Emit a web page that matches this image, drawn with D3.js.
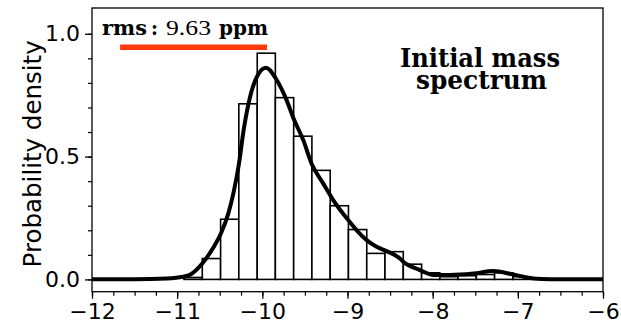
<!DOCTYPE html>
<html>
<head>
<meta charset="utf-8">
<script src="https://cdn.jsdelivr.net/npm/d3@7"></script>
<style>
  html, body { margin: 0; padding: 0; background: #fff; }
  #vis-main { width: 621px; height: 325px; }
</style>
</head>
<body>
<div id="vis-main"></div>
<script>

/* Data */
/* ---- */

// histogram bin edges (log10 relative mass error) and densities
var binEdges = [-10.92, -10.705, -10.49, -10.276, -10.06, -9.847, -9.632, -9.418, -9.203, -8.989,
                -8.774, -8.56, -8.345, -8.13, -7.916, -7.702, -7.487, -7.273, -7.058, -6.844];
var binDensity = [0.008, 0.085, 0.245, 0.715, 0.921, 0.74, 0.583, 0.444, 0.30, 0.203,
                  0.106, 0.113, 0.062, 0.027, 0.011, 0.015, 0.02, 0.027, 0.011];

// smoothed density curve
var kdeX = [-12, -11.5, -11.12, -10.93, -10.85, -10.705, -10.575, -10.485, -10.40, -10.34,
            -10.275, -10.22, -10.145, -10.066, -9.957, -9.84, -9.714, -9.632, -9.518, -9.42,
            -9.284, -9.166, -8.99, -8.873, -8.775, -8.658, -8.54, -8.384, -8.345, -8.149,
            -7.99, -7.797, -7.52, -7.288, -7.053, -6.82, -6.62, -6];
var kdeY = [0.001, 0.001, 0.004, 0.011, 0.019, 0.065, 0.13, 0.188, 0.268, 0.35,
            0.47, 0.607, 0.742, 0.824, 0.862, 0.817, 0.729, 0.654, 0.566, 0.47,
            0.39, 0.322, 0.241, 0.193, 0.16, 0.133, 0.115, 0.085, 0.072, 0.038,
            0.018, 0.018, 0.024, 0.034, 0.02, 0.004, 0.001, 0.001];

// rms bar (data coords)
var rmsSpan = [-11.67, -9.945];
var rmsLevel = 0.945;
var rmsValue = '9.63';

var xTicks = [-12, -11, -10, -9, -8, -7, -6];
var yTicks = [0, 0.5, 1.0];
var xMinor = d3.range(-12, -5.99, 0.25);
var yMinor = d3.range(0, 1.05, 0.1);

var xDomain = [-12, -6];
var yDomain = [-0.05, 1.105];


/* Globals */
/* ------- */

var vis = {};
vis.dims = { width: 621, height: 325 };
vis.margin = { top: 8, right: 18, bottom: 33.3, left: 92 };
vis.scale = {};


function setupVisual() {

  var svg = d3.select('#vis-main')
    .append('svg')
      .attr('width', vis.dims.width)
      .attr('height', vis.dims.height);

  vis.scale.x = d3.scaleLinear().domain(xDomain)
      .range([vis.margin.left, vis.dims.width - vis.margin.right]);
  vis.scale.y = d3.scaleLinear().domain(yDomain)
      .range([vis.dims.height - vis.margin.bottom, vis.margin.top]);

  vis.svg = svg;

} // setupVisual()

function drawBars() {

  var x = vis.scale.x, y = vis.scale.y;
  var bins = binDensity.map(function(d, i) { return { x0: binEdges[i], x1: binEdges[i + 1], v: d }; });

  vis.svg.append('g').attr('id', 'bars-g')
    .selectAll('rect')
    .data(bins)
    .enter().append('rect')
      .attr('x', function(d) { return x(d.x0); })
      .attr('width', function(d) { return x(d.x1) - x(d.x0); })
      .attr('y', function(d) { return y(d.v); })
      .attr('height', function(d) { return y(0) - y(d.v); })
      .attr('fill', '#fff')
      .attr('stroke', '#000')
      .attr('stroke-width', 1.6);

} // drawBars()

function drawCurve() {

  var x = vis.scale.x, y = vis.scale.y;
  var pts = kdeX.map(function(d, i) { return [d, kdeY[i]]; });

  var line = d3.line()
      .x(function(d) { return x(d[0]); })
      .y(function(d) { return y(d[1]); })
      .curve(d3.curveMonotoneX);

  vis.svg.append('path')
    .datum(pts)
    .attr('d', line)
    .attr('fill', 'none')
    .attr('stroke', '#000')
    .attr('stroke-width', 4)
    .attr('stroke-linejoin', 'round');

} // drawCurve()

function drawAxes() {

  var x = vis.scale.x, y = vis.scale.y;
  var bottom = vis.dims.height - vis.margin.bottom;

  // minor ticks
  vis.svg.append('g')
      .attr('transform', 'translate(0,' + bottom + ')')
      .call(d3.axisBottom(x).tickValues(xMinor).tickSize(4).tickFormat(''))
      .call(function(g) { g.select('.domain').remove(); g.selectAll('line').attr('stroke-width', 1.2); });

  vis.svg.append('g')
      .attr('transform', 'translate(' + vis.margin.left + ',0)')
      .call(d3.axisLeft(y).tickValues(yMinor).tickSize(4).tickFormat(''))
      .call(function(g) { g.select('.domain').remove(); g.selectAll('line').attr('stroke-width', 1.2); });

  // major ticks
  vis.svg.append('g')
      .attr('transform', 'translate(0,' + bottom + ')')
      .call(d3.axisBottom(x).tickValues(xTicks).tickSize(7).tickPadding(5).tickFormat(d3.format('d')))
      .call(function(g) {
        g.select('.domain').remove();
        g.selectAll('line').attr('stroke-width', 1.3);
        g.selectAll('text').attr('font-family', 'DejaVu Sans').attr('font-size', 22).attr('fill', '#000');
      });

  vis.svg.append('g')
      .attr('transform', 'translate(' + vis.margin.left + ',0)')
      .call(d3.axisLeft(y).tickValues(yTicks).tickSize(7).tickPadding(5).tickFormat(d3.format('.1f')))
      .call(function(g) {
        g.select('.domain').remove();
        g.selectAll('line').attr('stroke-width', 1.3);
        g.selectAll('text').attr('font-family', 'DejaVu Sans').attr('font-size', 22).attr('fill', '#000');
      });

  // frame
  vis.svg.append('rect')
      .attr('x', x(xDomain[0]))
      .attr('y', y(yDomain[1]))
      .attr('width', x(xDomain[1]) - x(xDomain[0]))
      .attr('height', y(yDomain[0]) - y(yDomain[1]))
      .attr('fill', 'none')
      .attr('stroke', '#000')
      .attr('stroke-width', 1.3);

  // y label
  vis.svg.append('text')
      .attr('transform', 'translate(41,' + ((vis.margin.top + bottom) / 2 + 4) + ') rotate(-90)')
      .attr('text-anchor', 'middle')
      .attr('font-family', 'DejaVu Sans')
      .attr('font-size', 24.5)
      .text('Probability density');

} // drawAxes()

function serifText(xPos, yPos, str, size, len, bold) {

  return vis.svg.append('text')
      .attr('x', xPos).attr('y', yPos)
      .attr('font-family', bold ? 'DejaVu Serif' : 'Liberation Serif')
      .attr('font-weight', bold ? 'bold' : 'normal')
      .attr('font-size', size)
      .attr('textLength', len)
      .attr('lengthAdjust', 'spacingAndGlyphs')
      .text(str);

} // serifText()

function drawAnnotations() {

  var x = vis.scale.x, y = vis.scale.y;

  // rms text
  serifText(102, 35, 'rms', 20, 45, true);
  serifText(151, 35, ':', 20, 7, true);
  serifText(166, 35, rmsValue, 22, 45, false);
  serifText(219, 35, 'ppm', 20, 49, true);

  // rms bar
  vis.svg.append('line')
      .attr('x1', x(rmsSpan[0]))
      .attr('x2', x(rmsSpan[1]))
      .attr('y1', y(rmsLevel))
      .attr('y2', y(rmsLevel))
      .attr('stroke', '#fd3a0c')
      .attr('stroke-width', 5.5);

  // title (two lines)
  serifText(400, 66.5, 'Initial mass', 25.5, 160, true).attr('font-weight', 600);
  serifText(416, 88.5, 'spectrum', 25.5, 131, true).attr('font-weight', 600);

} // drawAnnotations()


setupVisual();
drawBars();
drawCurve();
drawAxes();
drawAnnotations();

</script>
</body>
</html>
